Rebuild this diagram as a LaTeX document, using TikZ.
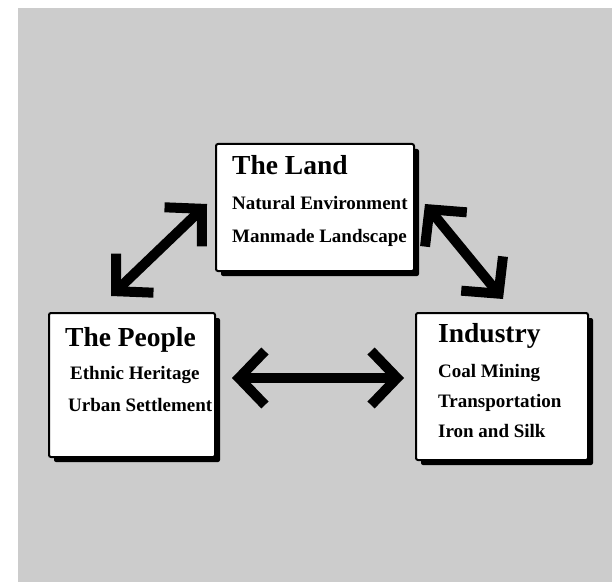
\documentclass[tikz,border=0pt]{standalone}
\usepackage{fontspec}
\setmainfont{Liberation Serif}
\usetikzlibrary{arrows.meta,shadows}
\tikzset{
  box/.style={draw=black, line width=2pt, fill=white, rounded corners=2pt,
    drop shadow={shadow xshift=5pt, shadow yshift=-5pt, fill=black, opacity=1},
    inner sep=0pt, anchor=north west},
  ttl/.style={anchor=base west, inner sep=0pt, font=\fontsize{27.5}{30}\selectfont\bfseries},
  sub/.style={anchor=base west, inner sep=0pt, font=\fontsize{19}{21}\selectfont\bfseries},
  bigarrow/.style={line width=10pt, {Straight Barb[length=26pt,width=54pt]}-{Straight Barb[length=26pt,width=54pt]}}
}
\begin{document}
\begin{tikzpicture}[x=1pt,y=-1pt]
\useasboundingbox (0,0) rectangle (615,585);
\fill[black!20] (18,8) rectangle (612,582);
% boxes
\node[box, minimum width=198pt, minimum height=127pt] (land) at (215,143) {};
\node[box, minimum width=166pt, minimum height=144pt] (people) at (48,312) {};
\node[box, minimum width=172pt, minimum height=147pt] (industry) at (415,312) {};
% texts
\node[ttl] (landT) at (232,175) {The Land};
\node[sub] (landA) at (232,210) {Natural Environment};
\node[sub] (landB) at (232,242) {Manmade Landscape};
\node[ttl] (peopleT) at (65,346) {The People};
\node[sub] (peopleA) at (70,379) {Ethnic Heritage};
\node[sub] (peopleB) at (68,411) {Urban Settlement};
\node[ttl] (indT) at (438,342) {Industry};
\node[sub] (indA) at (438,377) {Coal Mining};
\node[sub] (indB) at (438,407) {Transportation};
\node[sub] (indC) at (438,437) {Iron and Silk};
% arrow ends
\coordinate (lpA) at (111,296);
\coordinate (lpB) at (207,204);
\coordinate (liA) at (425,204);
\coordinate (liB) at (503,299);
\coordinate (piA) at (232,378);
\coordinate (piB) at (404,378);
\draw[bigarrow] (lpA) -- (lpB);
\draw[bigarrow] (liA) -- (liB);
\draw[bigarrow] (piA) -- (piB);
\end{tikzpicture}
\end{document}
